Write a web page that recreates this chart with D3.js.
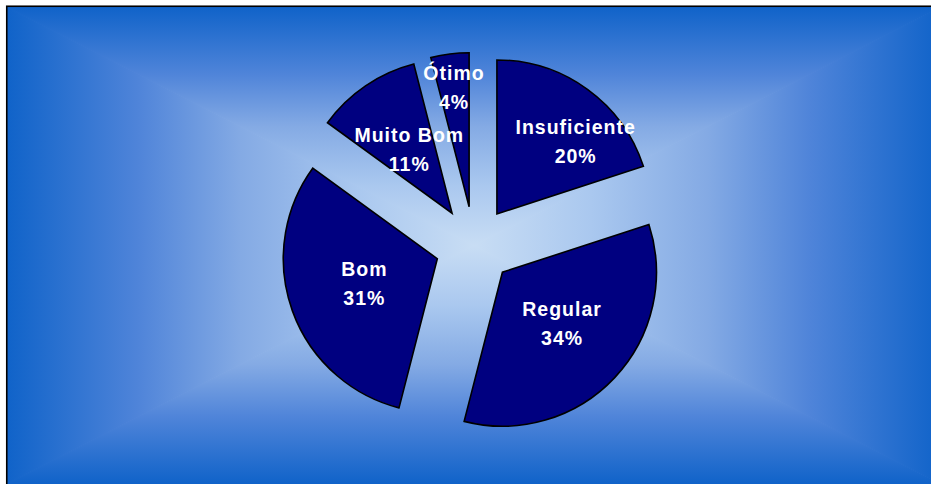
<!DOCTYPE html>
<html><head><meta charset="utf-8">
<script src="https://cdn.jsdelivr.net/npm/d3@7"></script>
<style>html,body{margin:0;padding:0;background:#fff;overflow:hidden;} svg{display:block;}</style>
</head><body>
<svg id="chart" width="931" height="484"></svg>
<script>
// ---- data ----
const categories = ["Insuficiente", "Regular", "Bom", "Muito Bom", "Ótimo"];
const values = [20, 34, 31, 11, 4];
const valueLabels = ["20%", "34%", "31%", "11%", "4%"];

// ---- layout ----
const W = 931, H = 484;
const frame = {x0: 7, y0: 7, x1: 941, y1: 484};
const cx = (frame.x0 + frame.x1) / 2, cy = (frame.y0 + frame.y1) / 2;
const radius = 154, explode = 39;
// label nudges (px) for labels Excel moved to fit
const labelShift = [[33, -10], [3, -1], [-1, -1], [0, 0], [-6, -43]];

const svg = d3.select("#chart");
const defs = svg.append("defs");
const stops = [[0, "#1063c9"], [0.28, "#4f84d9"], [0.5, "#84aae4"], [0.75, "#aac8ef"], [1, "#c8ddf4"]];
function grad(id, x1, y1, x2, y2) {
  const g = defs.append("linearGradient").attr("id", id).attr("gradientUnits", "userSpaceOnUse")
    .attr("x1", x1).attr("y1", y1).attr("x2", x2).attr("y2", y2);
  stops.forEach(s => g.append("stop").attr("offset", s[0]).attr("stop-color", s[1]));
}
grad("gTop", cx, frame.y0, cx, cy);
grad("gBot", cx, frame.y1, cx, cy);
grad("gLeft", frame.x0, cy, cx, cy);
grad("gRight", frame.x1, cy, cx, cy);

const bg = svg.append("g");
const tri = (pts, fill) => bg.append("polygon").attr("points", pts.map(p => p.join(",")).join(" "))
  .attr("fill", fill).attr("stroke", fill).attr("stroke-width", 1.2);
tri([[frame.x0, frame.y0], [frame.x0, frame.y1], [cx, cy]], "url(#gLeft)");
tri([[frame.x1, frame.y0], [frame.x1, frame.y1], [cx, cy]], "url(#gRight)");
tri([[frame.x0, frame.y0], [frame.x1, frame.y0], [cx, cy]], "url(#gTop)");
tri([[frame.x0, frame.y1], [frame.x1, frame.y1], [cx, cy]], "url(#gBot)");
svg.append("rect").attr("x", 0).attr("y", 0).attr("width", frame.x0 - 1).attr("height", H).attr("fill", "#fff");
svg.append("rect").attr("x", 0).attr("y", 0).attr("width", W).attr("height", frame.y0 - 1).attr("fill", "#fff");
svg.append("rect").attr("x", frame.x0 - 0.25).attr("y", frame.y0 - 0.75)
  .attr("width", frame.x1 - frame.x0 + 10).attr("height", frame.y1 - frame.y0 + 10)
  .attr("fill", "none").attr("stroke", "#000").attr("stroke-width", 1.6);

// ---- pie ----
const pie = d3.pie().sort(null).value(d => d).startAngle(0).endAngle(2 * Math.PI);
const arcs = pie(values);
const arc = d3.arc().innerRadius(0).outerRadius(radius);
const offset = d => {
  const m = (d.startAngle + d.endAngle) / 2;
  return [Math.sin(m) * explode, -Math.cos(m) * explode];
};

const g = svg.append("g").attr("transform", `translate(${cx},${cy})`);
g.selectAll("path.slice").data(arcs).enter().append("path")
  .attr("class", "slice")
  .attr("transform", d => `translate(${offset(d)})`)
  .attr("d", arc)
  .attr("fill", "#000080").attr("stroke", "#000").attr("stroke-width", 1.6)
  .attr("stroke-linejoin", "miter");

const font = "'Liberation Sans', Arial, Helvetica, sans-serif";
const labels = g.append("g");
arcs.forEach((d, i) => {
  const c = arc.centroid(d), o = offset(d);
  const x = c[0] + o[0] + labelShift[i][0], y = c[1] + o[1] + labelShift[i][1];
  const t = labels.append("text")
    .attr("text-anchor", "middle").attr("fill", "#fff")
    .attr("font-family", font).attr("font-weight", "bold")
    .attr("font-size", "19.5px").attr("letter-spacing", "1px");
  t.append("tspan").attr("x", x + 0.5).attr("y", y - 7.5).text(categories[i]);
  t.append("tspan").attr("x", x + 0.5).attr("y", y + 21.5).text(valueLabels[i]);
});
</script>
</body></html>
